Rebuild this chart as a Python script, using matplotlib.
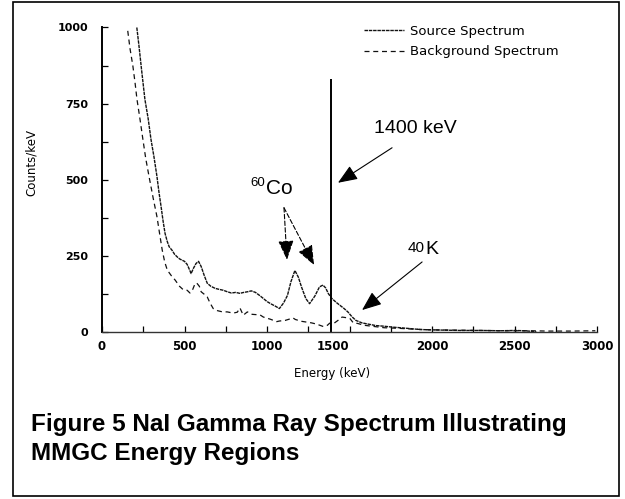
import matplotlib
matplotlib.use("Agg")
import matplotlib.pyplot as plt
from matplotlib.patches import Rectangle
from matplotlib.transforms import ScaledTranslation

# ---------------- data ----------------
src_energy = [211, 224, 240, 260, 280, 297, 315, 333, 345, 358, 370, 382, 395, 407,
              425, 440, 455, 470, 485, 500, 516, 530, 540, 555, 570, 585, 601, 620,
              638, 660, 687, 710, 735, 760, 784, 810, 835, 860, 881, 905, 930, 955,
              978, 1000, 1025, 1050, 1075, 1100, 1124, 1145, 1169, 1190, 1209, 1235,
              1258, 1290, 1318, 1339, 1355, 1372, 1393, 1420, 1441, 1465, 1490, 1515,
              1539, 1575, 1612, 1660, 1709, 1760, 1807, 1870, 1929, 2000, 2080, 2172,
              2300, 2414, 2500, 2560, 2632]
src_counts = [1000, 940, 860, 764, 700, 632, 575, 511, 460, 412, 365, 324, 298, 280,
              268, 255, 247, 240, 236, 232, 222, 205, 192, 210, 225, 232, 215, 185,
              160, 150, 143, 140, 137, 132, 128, 130, 127, 130, 132, 135, 130, 120,
              110, 100, 92, 85, 77, 95, 120, 165, 202, 180, 148, 110,
              93, 118, 148, 154, 145, 126, 110, 97, 88, 78, 66, 50,
              38, 30, 26, 21, 19, 16, 14, 11, 8, 7, 6, 5,
              5, 4, 5, 4, 1]

bg_energy = [156, 170, 187, 200, 212, 230, 248, 265, 285, 310, 333, 350, 365, 380,
             396, 420, 444, 470, 490, 516, 533, 550, 564, 574, 590, 601, 624, 638,
             655, 674, 700, 730, 759, 795, 820, 836, 856, 881, 910, 958, 978, 1020,
             1059, 1075, 1110, 1158, 1172, 1210, 1269, 1300, 1341, 1366, 1380, 1402,
             1430, 1455, 1480, 1503, 1523, 1550, 1589, 1650, 1709, 1800, 1900, 2000,
             2150, 2300, 2450, 2600, 2700, 2850, 2990]
bg_counts = [989, 930, 874, 820, 764, 700, 632, 570, 511, 440, 379, 320, 269, 230,
             203, 185, 170, 150, 140, 137, 128, 140, 159, 161, 150, 132, 122, 115,
             95, 77, 70, 66, 66, 62, 65, 79, 55, 66, 58, 56, 49, 42,
             34, 36, 38, 46, 41, 35, 30, 26, 18, 22, 29, 27,
             38, 49, 47, 44, 30, 28, 22, 18, 14, 12, 9, 7,
             6, 5, 4, 4, 3, 3, 4]

series_labels = ["Source Spectrum", "Background Spectrum"]
x_ticks = [0, 500, 1000, 1500, 2000, 2500, 3000]
x_tick_labels = ["0", "500", "1000", "1500", "2000", "2500", "3000"]
y_ticks = [0, 250, 500, 750, 1000]
y_tick_labels = ["0", "250", "500", "750", "1000"]

marker_energy = 1390      # 1400 keV region boundary line
marker_top = 832

# ---------------- figure ----------------
fig = plt.figure(figsize=(6.25, 4.99), dpi=100)
fig.patch.set_facecolor("white")

# outer frame
fig.patches.append(Rectangle((0.0208, 0.006), 0.9696, 0.990, transform=fig.transFigure,
                             fill=False, edgecolor="black", linewidth=1.2))

ax = fig.add_axes([0.1632, 0.3347, 0.792, 0.6102])

ax.plot(src_energy, src_counts, color="#111111", lw=1.0,
        linestyle=(0, (2.5, 0.6)), label=series_labels[0])
ax.plot(bg_energy, bg_counts, color="#111111", lw=0.9,
        linestyle=(0, (4, 3)), label=series_labels[1])

ax.vlines(marker_energy, 0, marker_top, color="black", lw=1.4)

ax.set_xlim(0, 3000)
ax.set_ylim(0, 1000)

for s in ["top", "right"]:
    ax.spines[s].set_visible(False)
ax.spines["left"].set_linewidth(1.4)
ax.spines["bottom"].set_linewidth(1.0)
ax.spines["bottom"].set_color("#333333")

ax.set_xticks(x_ticks)
ax.set_xticklabels(x_tick_labels)
ax.set_xticks([250, 750, 1250, 1750, 2250, 2750], minor=True)
ax.set_yticks(y_ticks)
ax.set_yticklabels(y_tick_labels)
ax.set_yticks([125, 375, 625, 875], minor=True)

ax.tick_params(axis="both", which="both", direction="in", length=4, width=0.9)
ax.tick_params(axis="x", which="major", pad=6)
ax.tick_params(axis="y", which="major", pad=10)
for lab in ax.get_xticklabels():
    lab.set_fontfamily("DejaVu Sans")
    lab.set_fontweight("bold")
    lab.set_fontsize(8.5)
for lab in ax.get_yticklabels():
    lab.set_fontfamily("DejaVu Sans")
    lab.set_fontweight("bold")
    lab.set_fontsize(8)

# the "1500" label sits left of its tick in the original
lab1500 = ax.get_xticklabels()[3]
lab1500.set_transform(lab1500.get_transform() + ScaledTranslation(-0.17, 0, fig.dpi_scale_trans))

ax.set_xlabel("Energy (keV)", fontsize=8.5, family="DejaVu Sans")
ax.xaxis.set_label_coords(0.465, -0.115)
ax.set_ylabel("Counts/keV", fontsize=8.5, family="DejaVu Sans")
ax.yaxis.set_label_coords(-0.129, 0.556)

leg = ax.legend(loc="upper left", bbox_to_anchor=(364 / 625, 1 - 25 / 499),
                bbox_transform=fig.transFigure, frameon=False, borderpad=0,
                borderaxespad=0, handlelength=3.0, handletextpad=0.45,
                labelspacing=0.55, prop={"family": "DejaVu Sans", "size": 9.5})

# annotations
ann_font = "Liberation Sans"
arrow_style = "-|>,head_length=1.0,head_width=0.4"
ax.text(1648, 668, "1400 keV", fontsize=14, family=ann_font, ha="left", va="center")
ax.annotate("", xy=(1430, 490), xytext=(1758, 605),
            arrowprops=dict(arrowstyle=arrow_style, mutation_scale=12, color="black",
                            lw=0.8, shrinkA=0, shrinkB=0))

ax.text(991, 470, "Co", fontsize=15, family=ann_font, ha="left", va="center")
ax.text(991, 490, "60", fontsize=9.5, family=ann_font, ha="right", va="center")
for tip in [(1121, 237), (1285, 220)]:
    ax.annotate("", xy=tip, xytext=(1103, 408),
                arrowprops=dict(arrowstyle=arrow_style, mutation_scale=12, color="black",
                                lw=0.8, linestyle=(0, (4, 2)), shrinkA=0, shrinkB=0))

ax.text(1958, 270, "K", fontsize=14, family=ann_font, ha="left", va="center")
ax.text(1958, 276, "40", fontsize=11, family=ann_font, ha="right", va="center")
ax.annotate("", xy=(1576, 72), xytext=(1940, 230),
            arrowprops=dict(arrowstyle=arrow_style, mutation_scale=12, color="black",
                            lw=0.8, shrinkA=0, shrinkB=0))

# caption
fig.text(31 / 625, 1 - 431 / 499, "Figure 5 NaI Gamma Ray Spectrum Illustrating",
         fontsize=17.5, fontweight="bold", family="Liberation Sans", ha="left", va="baseline")
fig.text(31 / 625, 1 - 460 / 499, "MMGC Energy Regions",
         fontsize=17.5, fontweight="bold", family="Liberation Sans", ha="left", va="baseline")

fig.savefig("out.png", dpi=100)
